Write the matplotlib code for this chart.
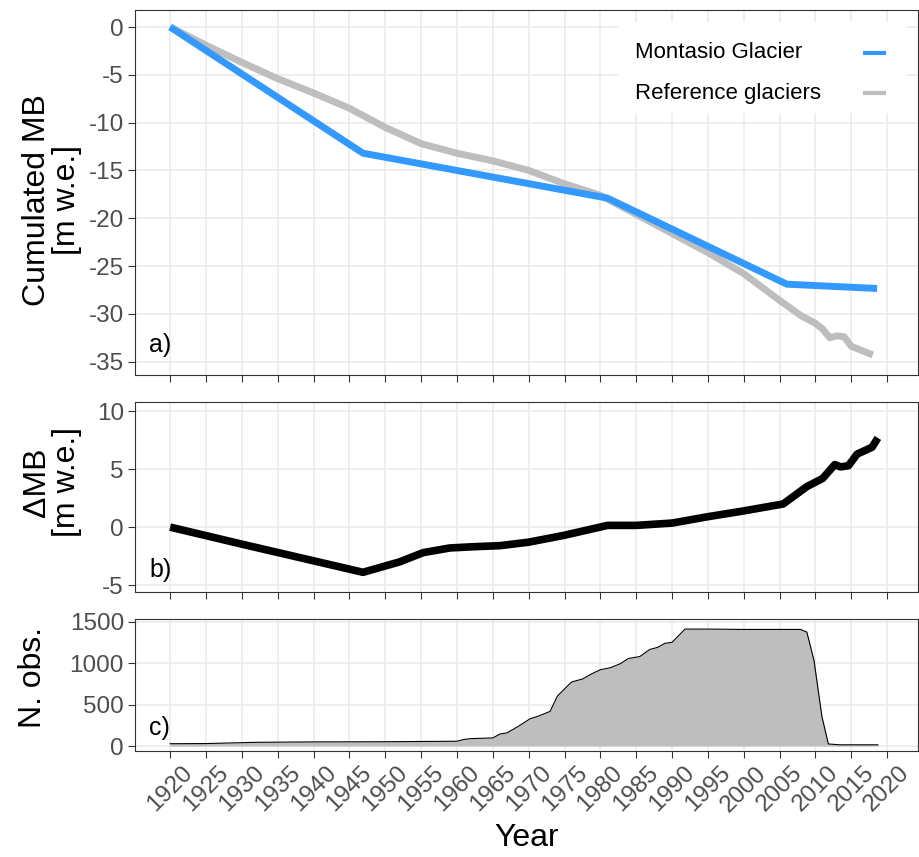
import matplotlib
matplotlib.use("Agg")
import matplotlib.pyplot as plt
from matplotlib.patches import Rectangle

plt.rcParams['font.family'] = ['Liberation Sans', 'DejaVu Sans']
plt.rcParams['axes.unicode_minus'] = False

# ---- data ----
montasio_years = [1920, 1946.9, 1981, 2006, 2018.6]
montasio_mb = [0, -13.2, -17.9, -26.9, -27.35]

ref_years = [1920, 1925, 1930, 1935, 1940, 1945, 1950, 1955, 1960, 1965, 1970,
             1975, 1980, 1985, 1990, 1995, 2000, 2005, 2008, 2010, 2011, 2012,
             2013, 2014, 2015, 2016, 2017, 2018]
ref_mb = [0, -1.9, -3.7, -5.4, -6.9, -8.5, -10.5, -12.2, -13.2, -14.0, -15.0,
          -16.4, -17.6, -19.6, -21.6, -23.6, -25.8, -28.6, -30.2, -31.0, -31.6,
          -32.5, -32.3, -32.4, -33.4, -33.7, -34.0, -34.3]

delta_years = [1920, 1930, 1946.9, 1952, 1955.3, 1959, 1962, 1966, 1970, 1975,
               1981, 1985, 1990, 1995, 2000, 2005.5, 2008.8, 2011, 2012.7,
               2013.5, 2014.6, 2015.8, 2017.9, 2018.7]
delta_mb = [0, -1.47, -3.9, -3.0, -2.2, -1.8, -1.7, -1.6, -1.3, -0.7,
            0.15, 0.15, 0.35, 0.9, 1.4, 2.0, 3.5, 4.2, 5.4,
            5.2, 5.3, 6.3, 6.9, 7.7]

obs_years = [1920, 1925, 1932, 1940, 1950, 1960, 1961, 1962, 1965, 1966, 1967,
             1968.5, 1970.2, 1971.2, 1972.3, 1973, 1974, 1975, 1976, 1977.5,
             1978.8, 1980, 1981.4, 1982.8, 1983.9, 1985.5, 1986.9, 1988, 1989,
             1990, 1991.8, 1995, 2000, 2005, 2007.9, 2008.8, 2009.8, 2010.9,
             2011.8, 2013.4, 2018.7]
obs_n = [28, 30, 45, 50, 52, 58, 80, 90, 98, 145, 160,
         235, 330, 357, 394, 420, 603, 690, 775, 810,
         873, 923, 947, 996, 1058, 1082, 1168, 1193, 1242,
         1254, 1414, 1414, 1410, 1410, 1410, 1378, 1033, 357,
         25, 15, 15]

series_labels = ['Montasio Glacier', 'Reference glaciers']
series_colors = ['#3399FF', '#BEBEBE']

xticks = list(range(1920, 2021, 5))

# ---- figure ----
W, H = 920, 857
fig = plt.figure(figsize=(W / 100, H / 100), dpi=100)

def box(x0, y0, x1, y1):
    return [x0 / W, 1 - y1 / H, (x1 - x0) / W, (y1 - y0) / H]

AX_A = (135, 10, 918, 375)
ax_a = fig.add_axes(box(*AX_A))
ax_b = fig.add_axes(box(135, 402, 918, 592))
ax_c = fig.add_axes(box(135, 619, 918, 751))

grid_col = '#EBEBEB'
tick_col = '#4D4D4D'
for ax in (ax_a, ax_b, ax_c):
    ax.set_xlim(1915.1, 2024.3)
    ax.set_xticks(xticks)
    ax.grid(True, color=grid_col, lw=1.2, zorder=0)
    ax.set_axisbelow(True)
    for s in ax.spines.values():
        s.set_color('#333333')
        s.set_linewidth(0.8)
    ax.tick_params(axis='both', direction='out', length=5, width=0.8,
                   color='#333333', labelcolor=tick_col, labelsize=17.5,
                   pad=3)

ax_a.tick_params(axis='x', labelbottom=False)
ax_b.tick_params(axis='x', labelbottom=False)

def ylab(text, xc, yc):
    fig.text(xc / W, 1 - yc / H, text, rotation=90, ha='center', va='center',
             fontsize=23, linespacing=1.0, multialignment='center')

# panel a
ax_a.plot(ref_years, ref_mb, color=series_colors[1], lw=5,
          solid_capstyle='butt', solid_joinstyle='round', zorder=2)
ax_a.plot(montasio_years, montasio_mb, color=series_colors[0], lw=5,
          solid_capstyle='butt', solid_joinstyle='round', zorder=3)
ax_a.set_ylim(-36.4, 1.78)
ax_a.set_yticks([0, -5, -10, -15, -20, -25, -30, -35])
ylab('Cumulated MB\n[m w.e.]', 52, 200)
ax_a.text(0.018, 0.05, 'a)', transform=ax_a.transAxes, fontsize=18,
          ha='left', va='bottom')

# legend (ggplot style: label left, key on the right), in axes fraction
def afx(px):
    return (px - AX_A[0]) / (AX_A[2] - AX_A[0])

def afy(py):
    return 1 - (py - AX_A[1]) / (AX_A[3] - AX_A[1])

ax_a.add_patch(Rectangle((afx(618), afy(113)), afx(906) - afx(618),
                         afy(22) - afy(113), transform=ax_a.transAxes,
                         facecolor='white', edgecolor='none', zorder=4))
for i, (lab, col) in enumerate(zip(series_labels, series_colors)):
    yc = 53 + 40 * i
    ax_a.text(afx(635), afy(yc), lab, transform=ax_a.transAxes, fontsize=16,
              ha='left', va='center', zorder=5)
    ax_a.plot([afx(863), afx(886)], [afy(yc), afy(yc)],
              transform=ax_a.transAxes, color=col, lw=3,
              solid_capstyle='butt', zorder=5)

# panel b
ax_b.plot(delta_years, delta_mb, color='black', lw=5.5, solid_capstyle='butt',
          solid_joinstyle='round')
ax_b.set_ylim(-5.6, 10.8)
ax_b.set_yticks([-5, 0, 5, 10])
ylab('\u0394MB\n[m w.e.]', 52, 482)
ax_b.text(0.018, 0.055, 'b)', transform=ax_b.transAxes, fontsize=18,
          ha='left', va='bottom')

# panel c
ax_c.fill_between(obs_years, obs_n, 0, color='#BEBEBE', lw=0, zorder=2)
ax_c.plot(obs_years, obs_n, color='black', lw=0.8, zorder=3)
ax_c.set_ylim(-60, 1536)
ax_c.set_yticks([0, 500, 1000, 1500])
ylab('N. obs.', 33, 677)
ax_c.text(0.018, 0.08, 'c)', transform=ax_c.transAxes, fontsize=18,
          ha='left', va='bottom')
ax_c.set_xticklabels([str(x) for x in xticks], rotation=45, ha='center',
                     va='top')
ax_c.set_xlabel('Year', fontsize=23, labelpad=5)

fig.savefig('out.png', dpi=100, facecolor='white')
